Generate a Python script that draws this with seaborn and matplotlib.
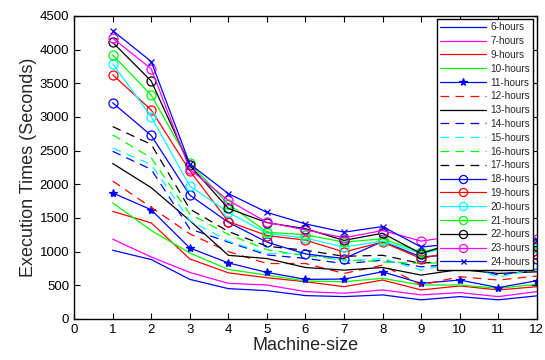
import matplotlib
matplotlib.use("Agg")
import matplotlib.pyplot as plt
import seaborn as sns
import pandas as pd

machine_size = [1, 2, 3, 4, 5, 6, 7, 8, 9, 10, 11, 12]

h6 = [1020, 882, 588, 450, 420, 347, 332, 357, 284, 332, 284, 343]
h7 = [1185, 920, 691, 529, 504, 406, 382, 431, 357, 391, 332, 406]
h9 = [1597, 1426, 891, 685, 612, 553, 479, 578, 431, 490, 431, 479]
h10 = [1724, 1313, 979, 735, 651, 563, 553, 603, 504, 504, 455, 514]
h11 = [1871, 1621, 1053, 832, 691, 588, 592, 700, 529, 578, 465, 567]
h12 = [2048, 1655, 1264, 1000, 823, 823, 676, 798, 504, 627, 578, 637]
h13 = [2308, 1949, 1460, 945, 897, 764, 725, 764, 651, 735, 676, 700]
h14 = [2489, 2220, 1337, 1141, 950, 900, 820, 872, 774, 823, 651, 735]
h15 = [2537, 2293, 1460, 1156, 970, 975, 860, 897, 725, 847, 617, 750]
h16 = [2734, 2390, 1558, 1254, 1030, 940, 880, 847, 823, 847, 750, 823]
h17 = [2856, 2591, 1632, 1298, 1080, 1020, 930, 945, 823, 897, 725, 847]
h18 = [3209, 2724, 1838, 1435, 1141, 965, 897, 1150, 921, 960, 813, 897]
h19 = [3625, 3102, 2200, 1445, 1239, 1170, 994, 1141, 897, 1019, 798, 945]
h20 = [3787, 3003, 1973, 1582, 1270, 1200, 1067, 1156, 970, 1092, 1029, 1058]
h21 = [3919, 3322, 2310, 1705, 1288, 1250, 1141, 1190, 994, 1117, 1117, 1117]
h22 = [4106, 3532, 2280, 1640, 1430, 1340, 1166, 1273, 970, 1156, 985, 1077]
h23 = [4169, 3713, 2220, 1760, 1435, 1323, 1205, 1313, 1156, 1239, 955, 1190]
h24 = [4280, 3822, 2302, 1861, 1582, 1411, 1288, 1372, 1067, 1126, 1131, 1176]

labels = ["6-hours", "7-hours", "9-hours", "10-hours", "11-hours", "12-hours",
          "13-hours", "14-hours", "15-hours", "16-hours", "17-hours", "18-hours",
          "19-hours", "20-hours", "21-hours", "22-hours", "23-hours", "24-hours"]
series = [h6, h7, h9, h10, h11, h12, h13, h14, h15, h16, h17, h18,
          h19, h20, h21, h22, h23, h24]

colors = ["#0000ff", "#ff00ff", "#ff0000", "#00ff00", "#0000ff", "#ff0000",
          "#000000", "#0000ff", "#00ffff", "#00ff00", "#000000", "#0000ff",
          "#ff0000", "#00ffff", "#00ff00", "#000000", "#ff00ff", "#0000ff"]
dash = (0, (7, 5))
styles = ["-", "-", "-", "-", "-", dash, "-", dash, dash, dash, dash,
          "-", "-", "-", "-", "-", "-", "-"]
markers = [None, None, None, None, "*", None, None, None, None, None, None,
           "o", "o", "o", "o", "o", "o", "x"]

sns.set_style("ticks")
plt.rcParams["font.family"] = ["Liberation Sans", "DejaVu Sans"]

fig = plt.figure(figsize=(5.45, 3.6), dpi=100)
ax = fig.add_axes([0.136, 0.114, 0.849, 0.842])

for lab, vals, c, ls, mk in zip(labels, series, colors, styles, markers):
    df = pd.DataFrame({"Machine-size": machine_size, "Time": vals})
    kw = dict(color=c, linestyle=ls, linewidth=0.9, label=lab)
    if mk is not None:
        kw.update(marker=mk, markersize={"o": 6.5, "*": 6, "x": 4}[mk],
                  markerfacecolor="none" if mk == "o" else c,
                  markeredgecolor=c, markeredgewidth=0.9)
    sns.lineplot(data=df, x="Machine-size", y="Time", ax=ax, **kw)

ax.set_xlim(0, 12)
ax.set_ylim(0, 4500)
ax.set_xticks(range(0, 13))
ax.set_yticks(range(0, 4501, 500))
ax.tick_params(direction="in", top=True, right=True, labelsize=9.5, length=4,
               width=0.8, colors="black")
for s in ax.spines.values():
    s.set_linewidth(1.0)
    s.set_color("black")
ax.set_xlabel("Machine-size", fontsize=13, labelpad=1)
ax.set_ylabel("Execution Times (Seconds)", fontsize=13, labelpad=2)

leg = ax.legend(loc="upper right", fontsize=7.2, handlelength=4.6,
                labelspacing=0.38, borderpad=0.3, handletextpad=0.5,
                fancybox=False, framealpha=1, edgecolor="black",
                borderaxespad=0.35, markerscale=0.9)
leg.get_frame().set_linewidth(1.0)

fig.savefig("out.png", dpi=100)
